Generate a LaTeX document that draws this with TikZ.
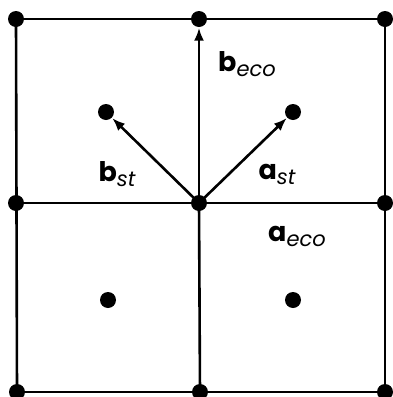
\documentclass[tikz,border=0pt]{standalone}
\usepackage{fontspec}
\setmainfont{Poppins}
\usetikzlibrary{arrows.meta}
\newcommand{\vsub}[1]{\raisebox{-5pt}{\fontsize{21}{24}\selectfont\itshape #1}}
\begin{document}
\begin{tikzpicture}[x=1pt,y=-1pt,
  dot/.style={circle,fill=black,inner sep=0pt,minimum size=16pt},
  grid line/.style={line width=2.6pt},
  vec/.style={line width=2.6pt,-{Latex[length=13pt,width=10pt]},shorten >=0.5pt},
  lab/.style={inner sep=0pt,font=\fontsize{27}{30}\selectfont}]
\useasboundingbox (0,0) rectangle (392,397);
% grid points
\node[dot] (tl) at (16,19) {};
\node[dot] (tm) at (199,19) {};
\node[dot] (tr) at (385,19) {};
\node[dot] (ml) at (16,203) {};
\node[dot] (mm) at (199,203) {};
\node[dot] (mr) at (385,203) {};
\node[dot] (bl) at (17,392) {};
\node[dot] (bm) at (200,392) {};
\node[dot] (br) at (385,392) {};
% cell centres
\node[dot] (c1) at (106,112) {};
\node[dot] (c2) at (293,112) {};
\node[dot] (c3) at (108,300) {};
\node[dot] (c4) at (293,300) {};
% grid lines
\draw[grid line] (tl.center) -- (tr.center);
\draw[grid line] (ml.center) -- (mr.center);
\draw[grid line] (bl.center) -- (br.center);
\draw[grid line] (tl.center) -- (bl.center);
\draw[grid line] (mm.center) -- (bm.center);
\draw[grid line] (tr.center) -- (br.center);
% vectors
\draw[vec] (mm.center) -- (tm);
\draw[vec] (mm.center) -- (c1);
\draw[vec] (mm.center) -- (c2);
% labels
\node[lab] (beco) at (247,64) {\textbf{b}\vsub{eco}};
\node[lab] (bst) at (117,174) {\textbf{b}\vsub{st}};
\node[lab] (ast) at (277,174) {\textbf{a}\vsub{st}};
\node[lab] (aeco) at (297,236) {\textbf{a}\vsub{eco}};
\end{tikzpicture}
\end{document}
